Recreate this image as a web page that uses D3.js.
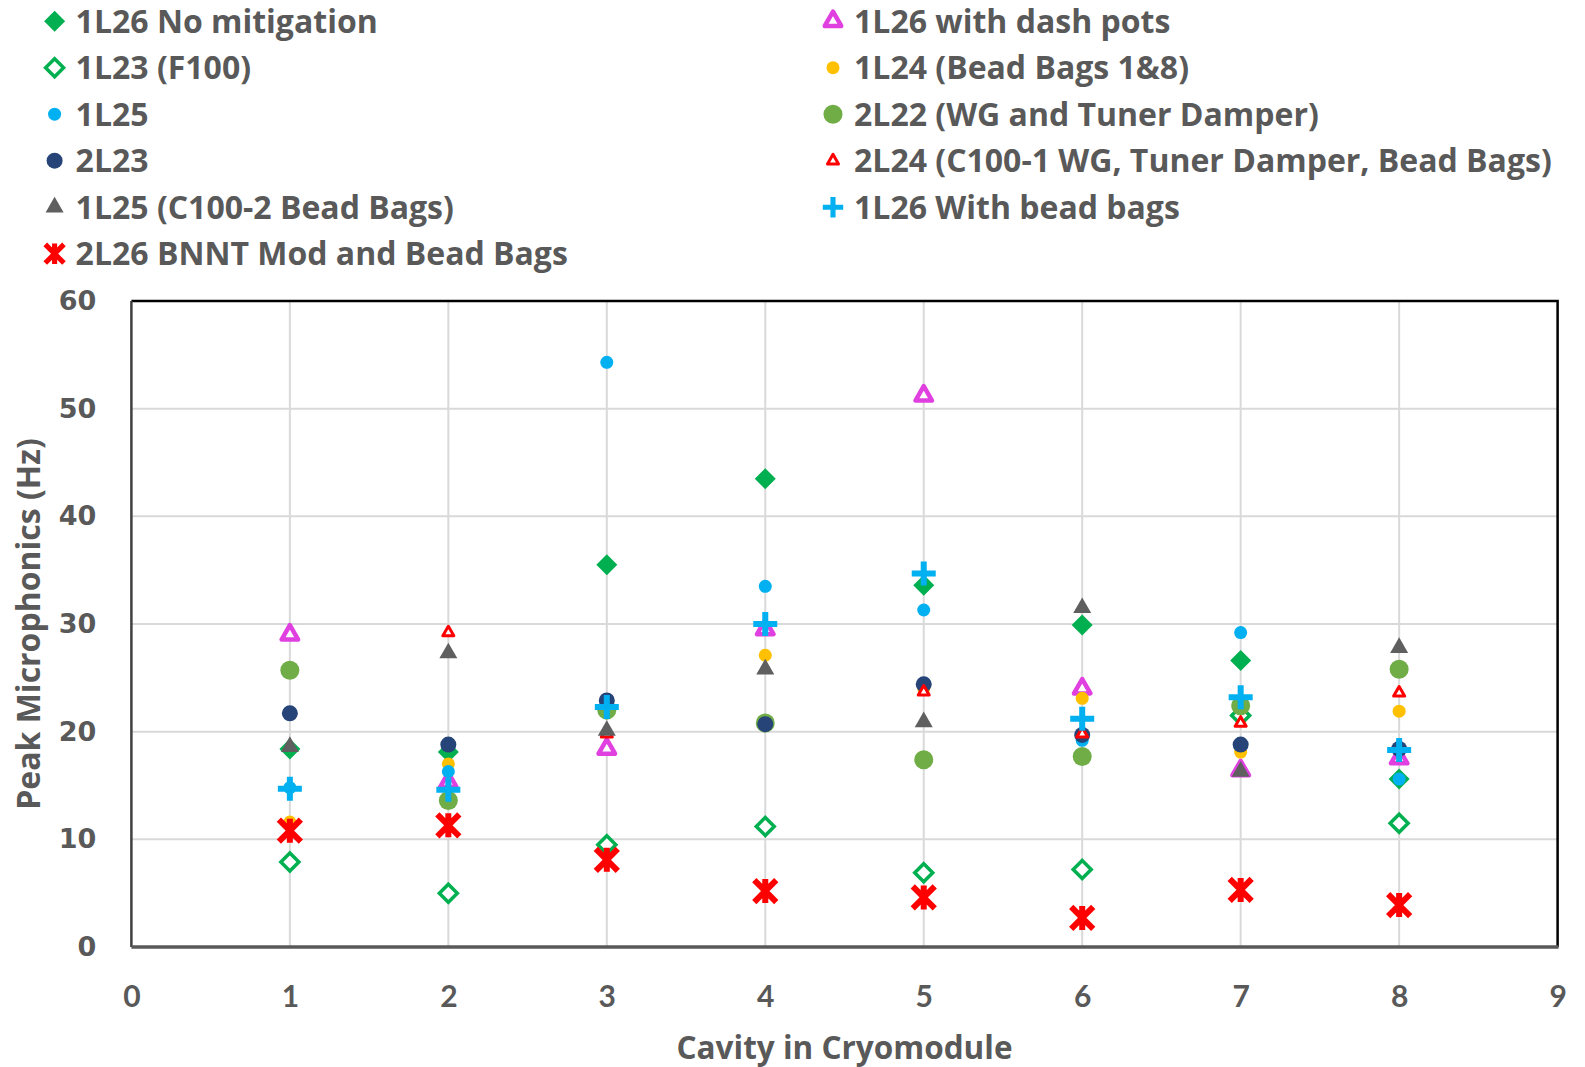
<!DOCTYPE html>
<html>
<head>
<meta charset="utf-8">
<script src="https://cdn.jsdelivr.net/npm/d3@7"></script>
<style>
  body { margin: 0; background: #fff; }
  text { font-family: "Open Sans", Lato, sans-serif; font-weight: bold; fill: #595959; }
</style>
</head>
<body>
<svg id="chart" width="1585" height="1067"></svg>
<script>
// cavity positions 1..8
const cavities = [1, 2, 3, 4, 5, 6, 7, 8];

const noMitigation1L26 = [18.4, 18.1, 35.5, 43.5, 33.6, 29.9, 26.6, 15.6];
const dashPots1L26     = [29.0, 15.3, 18.4, 29.5, 51.2, 24.0, 16.4, 17.5];
const f100_1L23        = [7.9, 5.0, 9.5, 11.2, 6.9, 7.2, 21.5, 11.5];
const beadBags1L24     = [11.6, 17.0, 22.5, 27.1, 24.0, 23.1, 18.1, 21.9];
const plain1L25        = [14.8, 16.3, 54.3, 33.5, 31.3, 19.2, 29.2, 15.6];
const wgTuner2L22      = [25.7, 13.6, 22.0, 20.8, 17.4, 17.7, 22.4, 25.8];
const plain2L23        = [21.7, 18.8, 22.9, 20.7, 24.4, 19.7, 18.8, 18.4];
const c100wg2L24       = [null, 29.2, 19.8, 25.8, 23.7, 19.8, 20.8, 23.6];
const c100beads1L25    = [18.6, 27.3, 20.1, 25.8, 20.9, 31.5, 16.3, 27.8];
const beadBags1L26     = [14.7, 14.6, 22.3, 30.0, 34.7, 21.2, 23.2, 18.3];
const bnnt2L26         = [10.8, 11.3, 8.1, 5.2, 4.6, 2.7, 5.3, 3.9];

const xTicks = [0, 1, 2, 3, 4, 5, 6, 7, 8, 9];
const yTicks = [0, 10, 20, 30, 40, 50, 60];

// series in Excel drawing order (later ones on top)
let series = [
    { name: "1L26 No mitigation", values: noMitigation1L26, shape: "diamond", color: "#00B050", open: false },
    { name: "1L26 with dash pots", values: dashPots1L26, shape: "triangle", color: "#E040E0", open: true },
    { name: "1L23 (F100)", values: f100_1L23, shape: "diamond", color: "#00B050", open: true },
    { name: "1L24 (Bead Bags 1&8)", values: beadBags1L24, shape: "smallCircle", color: "#FFC000", open: false },
    { name: "1L25", values: plain1L25, shape: "smallCircle", color: "#00B0F0", open: false },
    { name: "2L22 (WG and Tuner Damper)", values: wgTuner2L22, shape: "bigCircle", color: "#70AD47", open: false },
    { name: "2L23", values: plain2L23, shape: "circle", color: "#264478", open: false },
    { name: "2L24 (C100-1 WG, Tuner Damper, Bead Bags)", values: c100wg2L24, shape: "smallTriangle", color: "#FF0000", open: true },
    { name: "1L25 (C100-2 Bead Bags)", values: c100beads1L25, shape: "triangle", color: "#5F5F5F", open: false },
    { name: "1L26 With bead bags", values: beadBags1L26, shape: "plus", color: "#00B0F0", open: true },
    { name: "2L26 BNNT Mod and Bead Bags", values: bnnt2L26, shape: "star", color: "#FF0000", open: true }
];

let svg = d3.select("#chart");
let plotLeft = 131.4, plotRight = 1557.6, plotTop = 301, plotBottom = 947;

let x = d3.scaleLinear().domain([0, 9]).range([plotLeft, plotRight]);
let y = d3.scaleLinear().domain([0, 60]).range([plotBottom, plotTop]);

/* marker paths, centred on 0,0 */
function tri(w) {
    let h = w * 0.87;
    return `M0,${-2 * h / 3}L${w / 2},${h / 3}L${-w / 2},${h / 3}Z`;
}
function markerPath(s) {
    switch (s.shape) {
        case "diamond": return s.open ? "M0,-9L9,0L0,9L-9,0Z" : "M0,-10.5L10.5,0L0,10.5L-10.5,0Z";
        case "triangle": return s.open ? tri(16.5) : tri(18);
        case "smallTriangle": return tri(11);
        case "plus": return "M-12,0H12M0,-12V12";
        case "star": return "M-11,-11L11,11M-11,11L11,-11M0,-12V12";
    }
    return null;
}
function circleR(shape) {
    return shape === "smallCircle" ? 6.5 : shape === "bigCircle" ? 9.5 : 8;
}

function drawMarker(g, s) {
    if (s.shape.indexOf("ircle") > 0) {
        g.append("circle").attr("r", circleR(s.shape)).attr("fill", s.color);
        return;
    }
    let p = g.append("path").attr("d", markerPath(s));
    if (s.shape === "plus") {
        p.attr("fill", "none").attr("stroke", s.color).attr("stroke-width", 6);
    } else if (s.shape === "star") {
        p.attr("fill", "none").attr("stroke", s.color).attr("stroke-width", 6);
    } else if (s.open) {
        let sw = s.shape === "diamond" ? 3.5 : s.shape === "triangle" ? 4.5 : 3;
        p.attr("fill", "#fff").attr("stroke", s.color)
            .attr("stroke-width", sw)
            .attr("stroke-linejoin", s.shape === "diamond" ? "miter" : "round");
    } else {
        p.attr("fill", s.color);
    }
}

svg.append("rect").attr("width", 1585).attr("height", 1067).attr("fill", "#fff");

/* gridlines */
svg.append("g")
    .selectAll("line")
    .data(yTicks.slice(1, -1)).enter()
    .append("line")
    .attr("x1", plotLeft).attr("x2", plotRight)
    .attr("y1", d => y(d)).attr("y2", d => y(d))
    .attr("stroke", "#D9D9D9").attr("stroke-width", 2);

svg.append("g")
    .selectAll("line")
    .data(xTicks.slice(1, -1)).enter()
    .append("line")
    .attr("y1", plotTop).attr("y2", plotBottom)
    .attr("x1", d => x(d)).attr("x2", d => x(d))
    .attr("stroke", "#D9D9D9").attr("stroke-width", 2);

/* plot frame */
svg.append("path")
    .attr("d", `M${plotLeft},${plotTop}H${plotRight}V${plotBottom}`)
    .attr("fill", "none").attr("stroke", "#000").attr("stroke-width", 2.5);
svg.append("line")
    .attr("x1", plotLeft).attr("x2", plotLeft).attr("y1", plotTop).attr("y2", plotBottom)
    .attr("stroke", "#404040").attr("stroke-width", 2.5);
svg.append("line")
    .attr("x1", plotLeft).attr("x2", plotRight + 1).attr("y1", plotBottom).attr("y2", plotBottom)
    .attr("stroke", "#595959").attr("stroke-width", 3.5);

/* axes */
let yAxis = d3.axisLeft(y).tickValues(yTicks).tickSize(0).tickPadding(35);
svg.append("g")
    .attr("transform", `translate(${plotLeft},0)`)
    .call(yAxis)
    .call(g => g.select(".domain").remove())
    .selectAll("text")
    .style("font-family", "'DejaVu Sans', sans-serif")
    .style("font-size", "27px")
    .attr("fill", "#595959");

let xAxis = d3.axisBottom(x).tickValues(xTicks).tickSize(0).tickPadding(39);
svg.append("g")
    .attr("transform", `translate(0,${plotBottom})`)
    .call(xAxis)
    .call(g => g.select(".domain").remove())
    .selectAll("text")
    .style("font-family", "Lato, sans-serif")
    .style("font-size", "30px")
    .attr("fill", "#595959");

svg.append("text")
    .attr("x", (plotLeft + plotRight) / 2).attr("y", 1059)
    .attr("text-anchor", "middle")
    .style("font-size", "31.5px")
    .text("Cavity in Cryomodule");

svg.append("text")
    .attr("transform", `translate(40,${(plotTop + plotBottom) / 2}) rotate(-90)`)
    .attr("text-anchor", "middle")
    .style("font-size", "32px")
    .text("Peak Microphonics (Hz)");

/* points */
let points = svg.append("g").attr("class", "points");
series.forEach(s => {
    let grp = points.append("g");
    s.values.forEach((v, i) => {
        if (v === null) return;
        let g = grp.append("g")
            .attr("transform", `translate(${x(cavities[i])},${y(v)})`);
        drawMarker(g, s);
    });
});

/* legend: two columns, filled row by row */
let legend = svg.append("g").attr("class", "legend");
series.forEach((s, i) => {
    let col = i % 2, row = Math.floor(i / 2);
    let g = legend.append("g")
        .attr("transform", `translate(${col ? 833 : 54.6},${21.2 + row * 46.5})`);
    let m = g.append("g");
    drawMarker(m, s);
    if (s.shape === "plus" || s.shape === "star") m.attr("transform", "scale(0.85)");
    g.append("text")
        .attr("x", 21).attr("dy", "0.36em")
        .style("font-size", "32px")
        .text(s.name);
});
</script>
</body>
</html>
